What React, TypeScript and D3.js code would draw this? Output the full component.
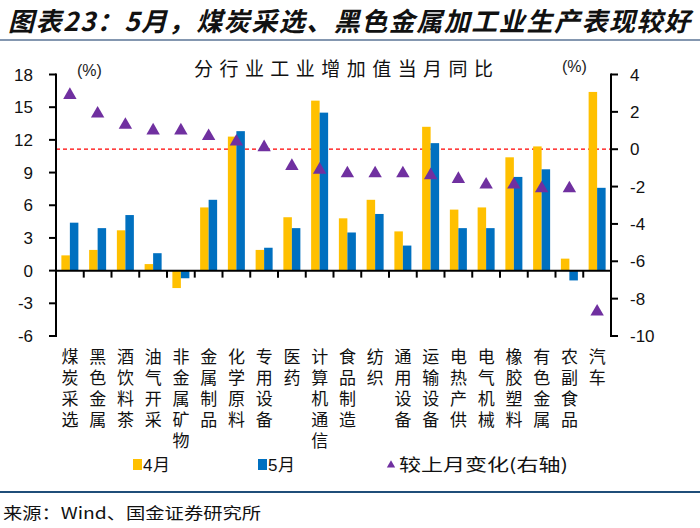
import React from "react";
import * as d3 from "d3";

const categories = [
  "煤炭采选", "黑色金属", "酒饮料茶", "油气开采", "非金属矿物", "金属制品", "化学原料",
  "专用设备", "医药", "计算机通信", "食品制造", "纺织", "通用设备", "运输设备",
  "电热产供", "电气机械", "橡胶塑料", "有色金属", "农副食品", "汽车",
];
const april = [1.4, 1.9, 3.7, 0.6, -1.6, 5.8, 12.3, 1.9, 4.9, 15.6, 4.8, 6.5, 3.6, 13.2, 5.6, 5.8, 10.4, 11.4, 1.1, 16.4];
const may = [4.4, 3.9, 5.1, 1.6, -0.7, 6.5, 12.8, 2.1, 3.9, 14.5, 3.5, 5.2, 2.3, 11.7, 3.9, 3.9, 8.6, 9.3, -0.9, 7.6];
const change = [2.9, 1.9, 1.3, 1.0, 1.0, 0.7, 0.4, 0.1, -0.9, -1.1, -1.3, -1.3, -1.3, -1.4, -1.6, -1.9, -1.9, -2.1, -2.1, -8.7];
const leftTicks = [-6, -3, 0, 3, 6, 9, 12, 15, 18];
const rightTicks = [-10, -8, -6, -4, -2, 0, 2, 4];

const YELLOW = "#FFC000";
const BLUE = "#0070C0";
const PURPLE = "#7030A0";
const CJK = "'Noto Sans CJK SC', 'Noto Sans', sans-serif";
const NUM = "'Liberation Sans', Arial, sans-serif";

export default function App() {
  const x0 = 56, x1 = 611, yTop = 74.5, yBot = 336;
  const x = d3.scaleBand<string>().domain(categories).range([x0, x1]).paddingInner(0).paddingOuter(0);
  const yL = d3.scaleLinear().domain([-6, 18]).range([yBot, yTop]);
  const yR = d3.scaleLinear().domain([-10, 4]).range([yBot, yTop]);
  const bw = 8.5;
  const tri = d3.symbol().type(d3.symbolTriangle).size(78)()!;
  const triSmall = d3.symbol().type(d3.symbolTriangle).size(30)()!;

  return (
    <svg width={700} height={528} style={{ position: "absolute", left: 0, top: 0, background: "#fff" }}>
      {/* Header */}
      <text x={8} y={31} fontFamily={CJK} fontSize={26} fontWeight={700} fontStyle="italic" fill="#111"
        textLength={682} lengthAdjust="spacing">图表23：5月，煤炭采选、黑色金属加工业生产表现较好</text>
      <line x1={0} x2={700} y1={40} y2={40} stroke="#8497B0" strokeWidth={2} />

      {/* chart title */}
      <text x={194} y={76} fontFamily={CJK} fontSize={19} fill="#111" textLength={299} lengthAdjust="spacing">分行业工业增加值当月同比</text>
      <text x={77} y={76} fontFamily={NUM} fontSize={16} fill="#222">(%)</text>
      <text x={562} y={72} fontFamily={NUM} fontSize={16} fill="#222">(%)</text>

      {/* red dashed zero line of right axis */}
      <line x1={x0} x2={x1} y1={yR(0)} y2={yR(0)} stroke="#FF0000" strokeWidth={1.3} strokeDasharray="4,3" />

      {/* bars */}
      {categories.map((c, i) => {
        const cx = x(c)! + x.bandwidth() / 2;
        return (
          <g key={c}>
            <rect x={cx - bw} width={bw} y={Math.min(yL(april[i]), yL(0))} height={Math.abs(yL(april[i]) - yL(0))} fill={YELLOW} />
            <rect x={cx} width={bw} y={Math.min(yL(may[i]), yL(0))} height={Math.abs(yL(may[i]) - yL(0))} fill={BLUE} />
          </g>
        );
      })}

      {/* triangles */}
      {categories.map((c, i) => {
        const cx = x(c)! + x.bandwidth() / 2;
        return <path key={"t" + c} d={tri} transform={`translate(${cx},${yR(change[i])})`} fill={PURPLE} />;
      })}

      {/* left axis */}
      <line x1={x0} x2={x0} y1={yTop - 1} y2={yBot + 1} stroke="#000" strokeWidth={2} />
      {leftTicks.map((t) => (
        <g key={"l" + t}>
          <line x1={x0 - 7} x2={x0} y1={yL(t)} y2={yL(t)} stroke="#000" strokeWidth={2} />
          <text x={33} y={yL(t)} dy="0.36em" textAnchor="end" fontFamily={NUM} fontSize={17} fill="#111">{t}</text>
        </g>
      ))}

      {/* right axis */}
      <line x1={x1} x2={x1} y1={yTop - 1} y2={yBot + 1} stroke="#000" strokeWidth={2} />
      {rightTicks.map((t) => (
        <g key={"r" + t}>
          <line x1={x1} x2={x1 + 7} y1={yR(t)} y2={yR(t)} stroke="#000" strokeWidth={2} />
          <text x={630} y={yR(t)} dy="0.36em" textAnchor="start" fontFamily={NUM} fontSize={17} fill="#111">{t}</text>
        </g>
      ))}

      {/* x axis (zero line) */}
      <line x1={x0} x2={x1} y1={yL(0)} y2={yL(0)} stroke="#000" strokeWidth={2} />
      {categories.slice(1).map((c) => (
        <line key={"xt" + c} x1={x(c)!} x2={x(c)!} y1={yL(0)} y2={yL(0) + 7} stroke="#000" strokeWidth={2} />
      ))}

      {/* category labels (vertical writing) */}
      {categories.map((c) => {
        const cx = x(c)! + x.bandwidth() / 2;
        return (
          <text key={"lab" + c} x={cx} y={348} fontFamily={CJK} fontSize={17} fill="#111"
            style={{ writingMode: "vertical-rl", letterSpacing: "4px" } as any}>{c}</text>
        );
      })}

      {/* legend */}
      <rect x={133} y={459} width={9} height={11} fill={YELLOW} />
      <text x={143} y={471} fontFamily={NUM} fontSize={17} fill="#111">4</text>
      <text x={153} y={471} fontFamily={CJK} fontSize={17} fill="#111">月</text>
      <rect x={258} y={459} width={9} height={11} fill={BLUE} />
      <text x={268} y={471} fontFamily={NUM} fontSize={17} fill="#111">5</text>
      <text x={278} y={471} fontFamily={CJK} fontSize={17} fill="#111">月</text>
      <path d={triSmall} transform="translate(391,465)" fill={PURPLE} />
      <text x={399} y={471} fontFamily={CJK} fontSize={17} fill="#111" textLength={169} lengthAdjust="spacingAndGlyphs">较上月变化(右轴)</text>

      <line x1={0} x2={700} y1={492} y2={492} stroke="#1F4E79" strokeWidth={2} />
      <text x={3} y={519} fontFamily={CJK} fontSize={16} fill="#111" textLength={258} lengthAdjust="spacingAndGlyphs">来源：Wind、国金证券研究所</text>
    </svg>
  );
}
